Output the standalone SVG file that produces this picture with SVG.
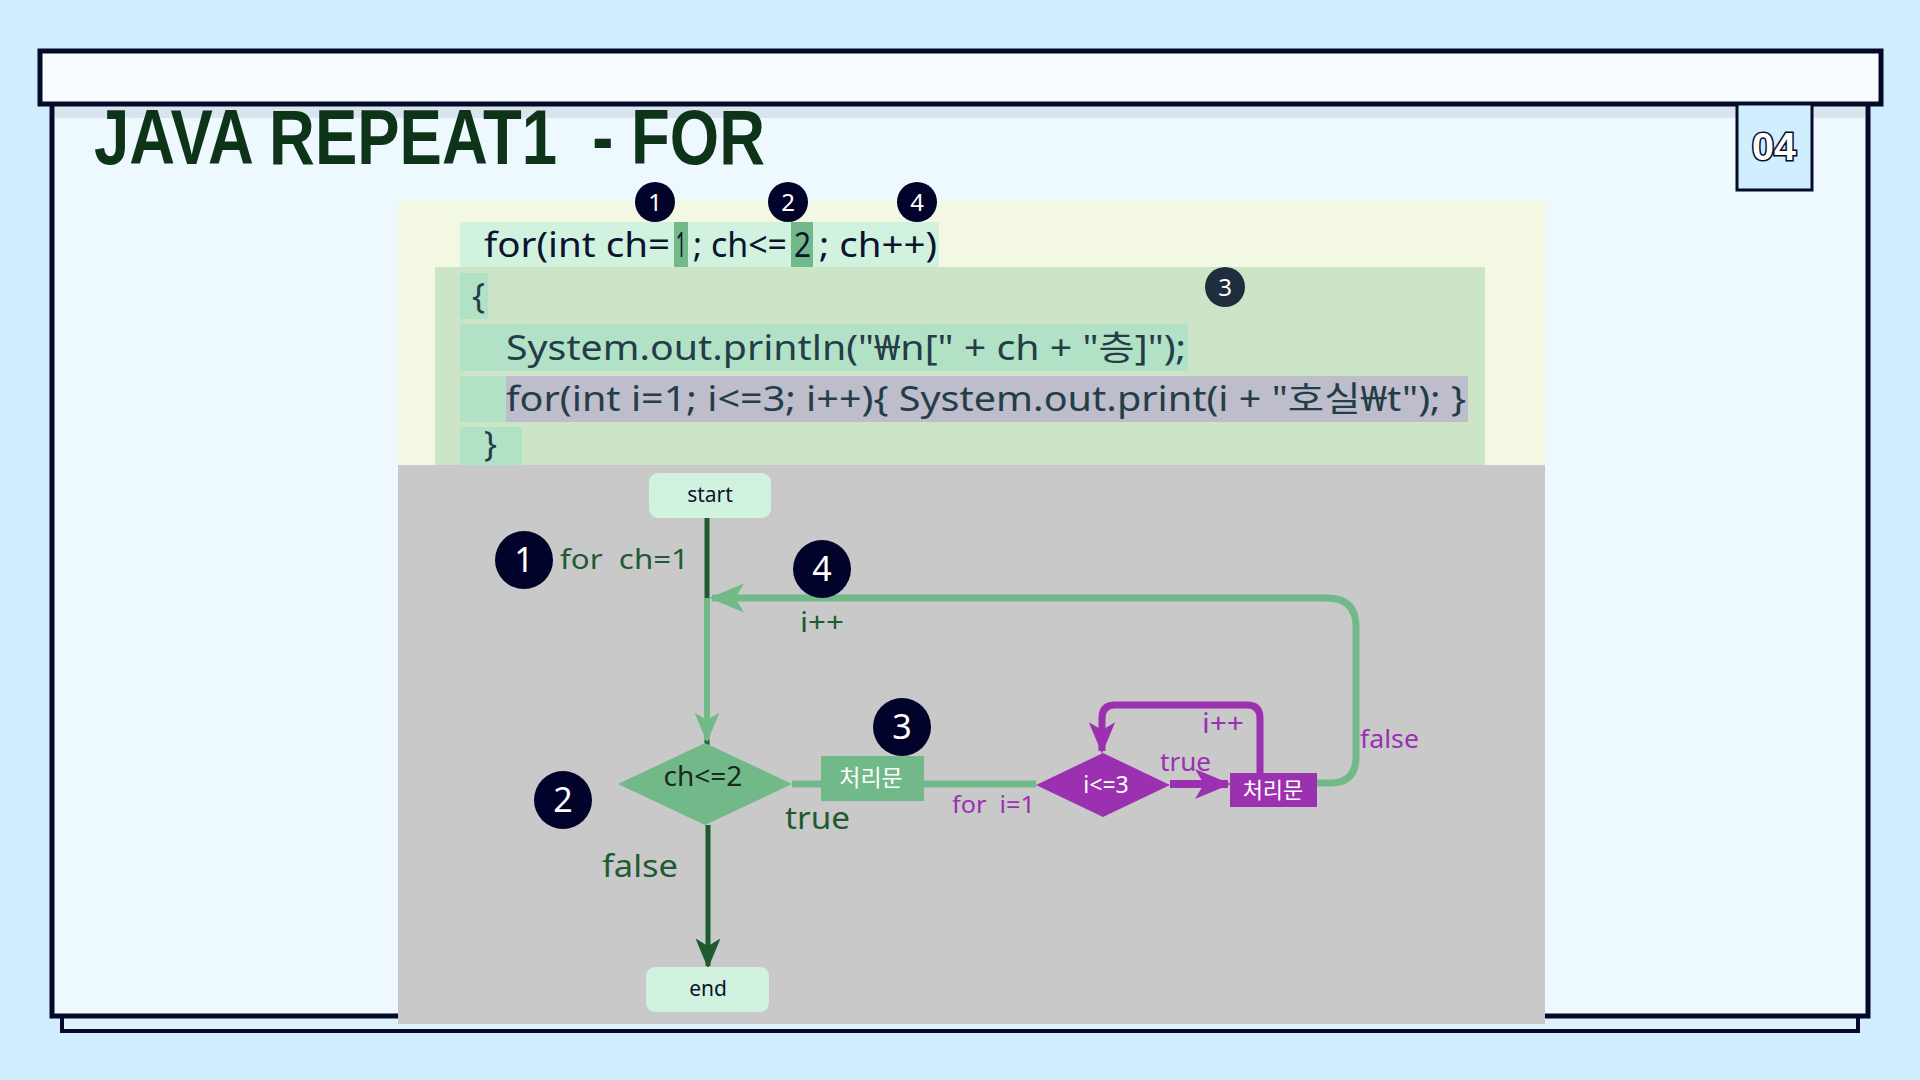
<svg xmlns="http://www.w3.org/2000/svg" width="1920" height="1080" viewBox="0 0 1920 1080">
<defs>
<style>
.code{font-family:"Noto Sans","Noto Sans CJK KR",sans-serif;font-size:34px;}
.hand{font-family:"Noto Sans","Noto Sans CJK KR",sans-serif;}
.num{font-family:"Noto Sans",sans-serif;fill:#ffffff;text-anchor:middle;}
.badge{fill:#02032a;}
.lbl{text-anchor:middle;}
</style>
<marker id="arrLight" viewBox="0 0 12 10" refX="11" refY="5" markerWidth="5" markerHeight="5" orient="auto" markerUnits="strokeWidth">
<path d="M0,0 L12,5 L0,10 L3,5 z" fill="#72b98a"/>
</marker>
<marker id="arrDark" viewBox="0 0 12 10" refX="11" refY="5" markerWidth="7" markerHeight="5" orient="auto" markerUnits="strokeWidth">
<path d="M0,0 L12,5 L0,10 L3,5 z" fill="#1e5a30"/>
</marker>
<marker id="arrPurple" viewBox="0 0 12 10" refX="11" refY="5" markerWidth="4.5" markerHeight="4.5" orient="auto" markerUnits="strokeWidth">
<path d="M0,0 L12,5 L0,10 L3,5 z" fill="#9b30b0"/>
</marker>
</defs>
<rect x="0" y="0" width="1920" height="1080" fill="#d0eefd"/>
<!-- bottom under-bar -->
<rect x="62" y="1012" width="1796" height="19" fill="#dff2fc" stroke="#050a2a" stroke-width="4"/>
<!-- main panel -->
<rect x="52" y="100" width="1816" height="916" fill="#eef8ff" stroke="#050a2a" stroke-width="5"/>
<rect x="55" y="104" width="1810" height="14" fill="#d9e5ee"/>
<!-- top bar -->
<rect x="40" y="51" width="1841" height="53" fill="#f8fcff" stroke="#050a2a" stroke-width="5"/>
<!-- title -->
<text x="94" y="164" font-family="Liberation Sans, sans-serif" font-weight="700" font-size="78" fill="#0d3319" textLength="671" lengthAdjust="spacingAndGlyphs" style="white-space:pre">JAVA REPEAT1  - FOR</text>
<!-- page number -->
<g id="pageNum">
<rect x="1737" y="104" width="75" height="86" fill="#d0eefd" stroke="#050a2a" stroke-width="3"/>
<text x="1774" y="160" text-anchor="middle" font-family="Liberation Sans, sans-serif" font-weight="700" font-size="38" fill="#ffffff" stroke="#050a2a" stroke-width="3" paint-order="stroke" textLength="44" lengthAdjust="spacingAndGlyphs">04</text>
</g>
<!-- code panel -->
<g id="codePanel">
<rect x="398" y="200" width="1147" height="265" fill="#f3f8e2"/>
<rect x="460" y="222" width="479" height="46" fill="#d0f2de"/>
<rect x="674" y="222" width="14" height="46" fill="#72b98a"/>
<rect x="791" y="222" width="22" height="46" fill="#72b98a"/>
<rect x="435" y="267" width="1050" height="198" fill="#cce5c7"/>
<rect x="460" y="273" width="28" height="46" fill="#b2e2c6"/>
<rect x="460" y="324" width="728" height="47" fill="#b2e2c6"/>
<rect x="460" y="376" width="46" height="46" fill="#b2e2c6"/>
<rect x="506" y="376" width="962" height="46" fill="#bebdcb"/>
<rect x="460" y="427" width="62" height="38" fill="#b2e2c6"/>
<text class="code" x="484" y="257" fill="#0c1230" textLength="186" lengthAdjust="spacingAndGlyphs">for(int ch=</text>
<text class="code" x="676" y="257" fill="#0c1230" textLength="10" lengthAdjust="spacingAndGlyphs">1</text>
<text class="code" x="693" y="257" fill="#0c1230" textLength="94" lengthAdjust="spacingAndGlyphs">; ch&lt;=</text>
<text class="code" x="794" y="257" fill="#0c1230" textLength="17" lengthAdjust="spacingAndGlyphs">2</text>
<text class="code" x="819" y="257" fill="#0c1230" textLength="118" lengthAdjust="spacingAndGlyphs">; ch++)</text>
<text class="code" x="472" y="308" fill="#253d48">{</text>
<text class="code" x="506" y="360" fill="#253d48" textLength="680" lengthAdjust="spacingAndGlyphs">System.out.println("₩n[" + ch + "층]");</text>
<text class="code" x="506" y="411" fill="#253d48" textLength="960" lengthAdjust="spacingAndGlyphs">for(int i=1; i&lt;=3; i++){ System.out.print(i + "호실₩t"); }</text>
<text class="code" x="484" y="456" fill="#253d48">}</text>
<circle class="badge" cx="655" cy="202" r="20"/>
<text class="num" x="655" y="211" font-size="24">1</text>
<circle class="badge" cx="788" cy="202" r="20"/>
<text class="num" x="788" y="211" font-size="24">2</text>
<circle class="badge" cx="917" cy="202" r="20"/>
<text class="num" x="917" y="211" font-size="24">4</text>
<circle cx="1225" cy="287" r="20" fill="#1e2e3c"/>
<text class="num" x="1225" y="296" font-size="24">3</text>
</g>
<!-- diagram panel -->
<rect x="398" y="465" width="1147" height="559" fill="#c9c9c9"/>
<g id="connectors" fill="none">
<line x1="707" y1="518" x2="707" y2="745" stroke="#1e5a30" stroke-width="5"/>
<path d="M1317,783 L1330,783 Q1356,783 1356,757 L1356,627 Q1356,598 1327,598 L712,598" stroke="#72b98a" stroke-width="7" marker-end="url(#arrLight)"/>
<line x1="707" y1="598" x2="707" y2="740" stroke="#72b98a" stroke-width="6" marker-end="url(#arrLight)"/>
<line x1="792" y1="784" x2="1036" y2="784" stroke="#72b98a" stroke-width="7"/>
<line x1="1170" y1="784" x2="1228" y2="784" stroke="#9b30b0" stroke-width="8" marker-end="url(#arrPurple)"/>
<path d="M1260,773 L1260,718 Q1260,705 1247,705 L1115,705 Q1102,705 1102,718 L1102,751" stroke="#9b30b0" stroke-width="7" marker-end="url(#arrPurple)"/>
<line x1="708" y1="825" x2="708" y2="966" stroke="#1e5a30" stroke-width="5" marker-end="url(#arrDark)"/>
</g>
<g id="start">
<rect x="649" y="473" width="122" height="45" rx="9" fill="#d0f2de"/>
<text class="hand lbl" x="710" y="502" font-size="21" fill="#0c1230">start</text>
</g>
<g id="end">
<rect x="646" y="967" width="123" height="45" rx="9" fill="#d0f2de"/>
<text class="hand lbl" x="708" y="996" font-size="21" fill="#0c1230">end</text>
</g>
<g id="condCh">
<polygon points="618,784 705,743 792,784 705,825" fill="#72b98a"/>
<text class="hand lbl" x="703" y="786" font-size="28" fill="#1a2a20">ch&lt;=2</text>
</g>
<g id="procOuter">
<rect x="821" y="756" width="103" height="45" fill="#72b98a"/>
<text class="hand lbl" x="871" y="786" font-size="23" fill="#ffffff">처리문</text>
</g>
<g id="condI">
<polygon points="1036,785 1103,753 1170,785 1103,817" fill="#9b30b0"/>
<text class="hand lbl" x="1106" y="793" font-size="23" fill="#ffffff">i&lt;=3</text>
</g>
<g id="procInner">
<rect x="1230" y="773" width="87" height="34" fill="#9b30b0"/>
<text class="hand lbl" x="1273" y="798" font-size="22" fill="#ffffff">처리문</text>
</g>
<g id="labels" class="hand">
<text x="560" y="569" font-size="28" fill="#1f5a33" textLength="129" lengthAdjust="spacingAndGlyphs" style="white-space:pre">for  ch=1</text>
<text x="800" y="632" font-size="27" fill="#1f5a33" textLength="44" lengthAdjust="spacingAndGlyphs">i++</text>
<text x="785" y="829" font-size="31" fill="#1f5a33" textLength="65" lengthAdjust="spacingAndGlyphs">true</text>
<text x="602" y="877" font-size="31" fill="#1f5a33" textLength="76" lengthAdjust="spacingAndGlyphs">false</text>
<text x="952" y="813" font-size="23" fill="#9b30b0" textLength="83" lengthAdjust="spacingAndGlyphs" style="white-space:pre">for  i=1</text>
<text x="1160" y="771" font-size="25" fill="#9b30b0" textLength="51" lengthAdjust="spacingAndGlyphs">true</text>
<text x="1202" y="733" font-size="27" fill="#9b30b0" textLength="42" lengthAdjust="spacingAndGlyphs">i++</text>
<text x="1360" y="748" font-size="26" fill="#9b30b0" textLength="59" lengthAdjust="spacingAndGlyphs">false</text>
</g>
<g id="badges">
<circle class="badge" cx="524" cy="560" r="29"/>
<text class="num" x="524" y="572" font-size="34">1</text>
<circle class="badge" cx="822" cy="569" r="29"/>
<text class="num" x="822" y="581" font-size="34">4</text>
<circle class="badge" cx="563" cy="800" r="29"/>
<text class="num" x="563" y="812" font-size="34">2</text>
<circle class="badge" cx="902" cy="727" r="29"/>
<text class="num" x="902" y="739" font-size="34">3</text>
</g>
</svg>
